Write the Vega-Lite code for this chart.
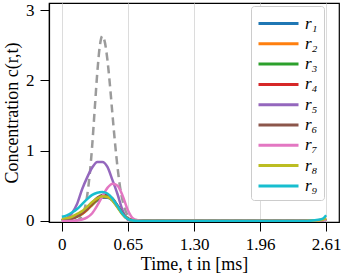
{
  "$schema": "https://vega.github.io/schema/vega-lite/v6.json",
  "width": 290,
  "height": 219,
  "autosize": {"type": "none"},
  "padding": {"left": 49, "top": 3, "right": 2, "bottom": 55},
  "config": {
    "font": "Liberation Serif",
    "view": {"stroke": "black", "strokeWidth": 1.2},
    "axis": {
      "labelFont": "Liberation Serif",
      "titleFont": "Liberation Serif",
      "labelFontSize": 17,
      "titleFontSize": 18,
      "titleFontWeight": "normal",
      "labelColor": "black",
      "titleColor": "black",
      "domainColor": "black",
      "domainWidth": 1.2,
      "tickColor": "black",
      "tickWidth": 1,
      "tickSize": 9,
      "labelPadding": 5
    }
  },
  "datasets": {
    "ref": [
      {"t": 0, "c": 0}, {"t": 0.1, "c": 0}, {"t": 0.15, "c": 0.01}, {"t": 0.175, "c": 0.03},
      {"t": 0.2, "c": 0.075}, {"t": 0.225, "c": 0.17}, {"t": 0.25, "c": 0.36}, {"t": 0.275, "c": 0.66},
      {"t": 0.3, "c": 1.08}, {"t": 0.325, "c": 1.6}, {"t": 0.35, "c": 2.11}, {"t": 0.375, "c": 2.49},
      {"t": 0.4, "c": 2.63}, {"t": 0.425, "c": 2.54}, {"t": 0.45, "c": 2.29}, {"t": 0.475, "c": 1.93},
      {"t": 0.5, "c": 1.51}, {"t": 0.525, "c": 1.11}, {"t": 0.55, "c": 0.76}, {"t": 0.575, "c": 0.48},
      {"t": 0.6, "c": 0.29}, {"t": 0.625, "c": 0.16}, {"t": 0.65, "c": 0.08}, {"t": 0.675, "c": 0.04},
      {"t": 0.7, "c": 0.02}, {"t": 0.75, "c": 0}, {"t": 1.0, "c": 0}, {"t": 2.61, "c": 0}
    ],
    "conc": [
      {"s":"r1","t":0,"c":0.01},{"s":"r1","t":0.05,"c":0.02},{"s":"r1","t":0.1,"c":0.03},{"s":"r1","t":0.15,"c":0.06},{"s":"r1","t":0.2,"c":0.1},{"s":"r1","t":0.25,"c":0.16},{"s":"r1","t":0.3,"c":0.23},{"s":"r1","t":0.35,"c":0.29},{"s":"r1","t":0.4,"c":0.33},{"s":"r1","t":0.45,"c":0.33},{"s":"r1","t":0.5,"c":0.29},{"s":"r1","t":0.55,"c":0.2},{"s":"r1","t":0.6,"c":0.1},{"s":"r1","t":0.65,"c":0.03},{"s":"r1","t":0.7,"c":0.01},{"s":"r1","t":0.75,"c":0},{"s":"r1","t":0.8,"c":0},{"s":"r1","t":0.9,"c":0},{"s":"r1","t":1.0,"c":0},{"s":"r1","t":1.5,"c":0},{"s":"r1","t":2.0,"c":0},{"s":"r1","t":2.3,"c":0},{"s":"r1","t":2.4,"c":0},{"s":"r1","t":2.45,"c":0},{"s":"r1","t":2.5,"c":0.003},{"s":"r1","t":2.55,"c":0.008},{"s":"r1","t":2.58,"c":0.013},{"s":"r1","t":2.61,"c":0.02},
      {"s":"r2","t":0,"c":0.01},{"s":"r2","t":0.05,"c":0.02},{"s":"r2","t":0.1,"c":0.035},{"s":"r2","t":0.15,"c":0.06},{"s":"r2","t":0.2,"c":0.1},{"s":"r2","t":0.25,"c":0.16},{"s":"r2","t":0.3,"c":0.23},{"s":"r2","t":0.35,"c":0.3},{"s":"r2","t":0.4,"c":0.34},{"s":"r2","t":0.45,"c":0.34},{"s":"r2","t":0.5,"c":0.3},{"s":"r2","t":0.55,"c":0.2},{"s":"r2","t":0.6,"c":0.1},{"s":"r2","t":0.65,"c":0.03},{"s":"r2","t":0.7,"c":0.01},{"s":"r2","t":0.75,"c":0},{"s":"r2","t":0.8,"c":0},{"s":"r2","t":0.9,"c":0},{"s":"r2","t":1.0,"c":0},{"s":"r2","t":1.5,"c":0},{"s":"r2","t":2.0,"c":0},{"s":"r2","t":2.3,"c":0},{"s":"r2","t":2.4,"c":0},{"s":"r2","t":2.45,"c":0},{"s":"r2","t":2.5,"c":0.003},{"s":"r2","t":2.55,"c":0.008},{"s":"r2","t":2.58,"c":0.013},{"s":"r2","t":2.61,"c":0.02},
      {"s":"r3","t":0,"c":0.01},{"s":"r3","t":0.05,"c":0.02},{"s":"r3","t":0.1,"c":0.04},{"s":"r3","t":0.15,"c":0.065},{"s":"r3","t":0.2,"c":0.11},{"s":"r3","t":0.25,"c":0.17},{"s":"r3","t":0.3,"c":0.24},{"s":"r3","t":0.35,"c":0.31},{"s":"r3","t":0.4,"c":0.35},{"s":"r3","t":0.45,"c":0.35},{"s":"r3","t":0.5,"c":0.31},{"s":"r3","t":0.55,"c":0.21},{"s":"r3","t":0.6,"c":0.1},{"s":"r3","t":0.65,"c":0.03},{"s":"r3","t":0.7,"c":0.01},{"s":"r3","t":0.75,"c":0},{"s":"r3","t":0.8,"c":0},{"s":"r3","t":0.9,"c":0},{"s":"r3","t":1.0,"c":0},{"s":"r3","t":1.5,"c":0},{"s":"r3","t":2.0,"c":0},{"s":"r3","t":2.3,"c":0},{"s":"r3","t":2.4,"c":0},{"s":"r3","t":2.45,"c":0},{"s":"r3","t":2.5,"c":0.004},{"s":"r3","t":2.55,"c":0.01},{"s":"r3","t":2.58,"c":0.016},{"s":"r3","t":2.61,"c":0.025},
      {"s":"r4","t":0,"c":0.01},{"s":"r4","t":0.05,"c":0.02},{"s":"r4","t":0.1,"c":0.04},{"s":"r4","t":0.15,"c":0.07},{"s":"r4","t":0.2,"c":0.11},{"s":"r4","t":0.25,"c":0.17},{"s":"r4","t":0.3,"c":0.25},{"s":"r4","t":0.35,"c":0.32},{"s":"r4","t":0.4,"c":0.36},{"s":"r4","t":0.45,"c":0.36},{"s":"r4","t":0.5,"c":0.31},{"s":"r4","t":0.55,"c":0.21},{"s":"r4","t":0.6,"c":0.1},{"s":"r4","t":0.65,"c":0.03},{"s":"r4","t":0.7,"c":0.01},{"s":"r4","t":0.75,"c":0},{"s":"r4","t":0.8,"c":0},{"s":"r4","t":0.9,"c":0},{"s":"r4","t":1.0,"c":0},{"s":"r4","t":1.5,"c":0},{"s":"r4","t":2.0,"c":0},{"s":"r4","t":2.3,"c":0},{"s":"r4","t":2.4,"c":0},{"s":"r4","t":2.45,"c":0},{"s":"r4","t":2.5,"c":0.004},{"s":"r4","t":2.55,"c":0.01},{"s":"r4","t":2.58,"c":0.016},{"s":"r4","t":2.61,"c":0.025},
      {"s":"r5","t":0,"c":0.02},{"s":"r5","t":0.05,"c":0.04},{"s":"r5","t":0.1,"c":0.11},{"s":"r5","t":0.15,"c":0.24},{"s":"r5","t":0.2,"c":0.45},{"s":"r5","t":0.25,"c":0.62},{"s":"r5","t":0.3,"c":0.76},{"s":"r5","t":0.35,"c":0.84},{"s":"r5","t":0.4,"c":0.84},{"s":"r5","t":0.45,"c":0.77},{"s":"r5","t":0.5,"c":0.58},{"s":"r5","t":0.55,"c":0.38},{"s":"r5","t":0.6,"c":0.15},{"s":"r5","t":0.65,"c":0.02},{"s":"r5","t":0.7,"c":0},{"s":"r5","t":0.75,"c":0},{"s":"r5","t":0.8,"c":0},{"s":"r5","t":0.9,"c":0},{"s":"r5","t":1.0,"c":0},{"s":"r5","t":1.5,"c":0},{"s":"r5","t":2.0,"c":0},{"s":"r5","t":2.3,"c":0},{"s":"r5","t":2.4,"c":0},{"s":"r5","t":2.45,"c":0},{"s":"r5","t":2.5,"c":0.002},{"s":"r5","t":2.55,"c":0.005},{"s":"r5","t":2.58,"c":0.01},{"s":"r5","t":2.61,"c":0.02},
      {"s":"r6","t":0,"c":0.01},{"s":"r6","t":0.05,"c":0.02},{"s":"r6","t":0.1,"c":0.04},{"s":"r6","t":0.15,"c":0.07},{"s":"r6","t":0.2,"c":0.12},{"s":"r6","t":0.25,"c":0.18},{"s":"r6","t":0.3,"c":0.26},{"s":"r6","t":0.35,"c":0.33},{"s":"r6","t":0.4,"c":0.37},{"s":"r6","t":0.45,"c":0.37},{"s":"r6","t":0.5,"c":0.32},{"s":"r6","t":0.55,"c":0.22},{"s":"r6","t":0.6,"c":0.11},{"s":"r6","t":0.65,"c":0.04},{"s":"r6","t":0.7,"c":0.01},{"s":"r6","t":0.75,"c":0},{"s":"r6","t":0.8,"c":0},{"s":"r6","t":0.9,"c":0},{"s":"r6","t":1.0,"c":0},{"s":"r6","t":1.5,"c":0},{"s":"r6","t":2.0,"c":0},{"s":"r6","t":2.3,"c":0},{"s":"r6","t":2.4,"c":0},{"s":"r6","t":2.45,"c":0},{"s":"r6","t":2.5,"c":0.004},{"s":"r6","t":2.55,"c":0.012},{"s":"r6","t":2.58,"c":0.02},{"s":"r6","t":2.61,"c":0.03},
      {"s":"r7","t":0,"c":0},{"s":"r7","t":0.05,"c":0},{"s":"r7","t":0.1,"c":0},{"s":"r7","t":0.15,"c":0.006},{"s":"r7","t":0.2,"c":0.02},{"s":"r7","t":0.25,"c":0.05},{"s":"r7","t":0.3,"c":0.11},{"s":"r7","t":0.35,"c":0.22},{"s":"r7","t":0.4,"c":0.35},{"s":"r7","t":0.45,"c":0.47},{"s":"r7","t":0.5,"c":0.53},{"s":"r7","t":0.55,"c":0.5},{"s":"r7","t":0.6,"c":0.36},{"s":"r7","t":0.65,"c":0.16},{"s":"r7","t":0.7,"c":0.04},{"s":"r7","t":0.75,"c":0.01},{"s":"r7","t":0.8,"c":0},{"s":"r7","t":0.9,"c":0},{"s":"r7","t":1.0,"c":0},{"s":"r7","t":1.5,"c":0},{"s":"r7","t":2.0,"c":0},{"s":"r7","t":2.3,"c":0},{"s":"r7","t":2.4,"c":0},{"s":"r7","t":2.45,"c":0},{"s":"r7","t":2.5,"c":0.002},{"s":"r7","t":2.55,"c":0.006},{"s":"r7","t":2.58,"c":0.012},{"s":"r7","t":2.61,"c":0.02},
      {"s":"r8","t":0,"c":0.03},{"s":"r8","t":0.05,"c":0.04},{"s":"r8","t":0.1,"c":0.06},{"s":"r8","t":0.15,"c":0.1},{"s":"r8","t":0.2,"c":0.14},{"s":"r8","t":0.25,"c":0.2},{"s":"r8","t":0.3,"c":0.27},{"s":"r8","t":0.35,"c":0.32},{"s":"r8","t":0.4,"c":0.35},{"s":"r8","t":0.45,"c":0.34},{"s":"r8","t":0.5,"c":0.29},{"s":"r8","t":0.55,"c":0.19},{"s":"r8","t":0.6,"c":0.09},{"s":"r8","t":0.65,"c":0.03},{"s":"r8","t":0.7,"c":0.005},{"s":"r8","t":0.75,"c":0},{"s":"r8","t":0.8,"c":0},{"s":"r8","t":0.9,"c":0},{"s":"r8","t":1.0,"c":0},{"s":"r8","t":1.5,"c":0},{"s":"r8","t":2.0,"c":0},{"s":"r8","t":2.3,"c":0},{"s":"r8","t":2.4,"c":0},{"s":"r8","t":2.45,"c":0.002},{"s":"r8","t":2.5,"c":0.005},{"s":"r8","t":2.55,"c":0.01},{"s":"r8","t":2.58,"c":0.02},{"s":"r8","t":2.61,"c":0.04},
      {"s":"r9","t":0,"c":0.06},{"s":"r9","t":0.05,"c":0.08},{"s":"r9","t":0.1,"c":0.12},{"s":"r9","t":0.15,"c":0.17},{"s":"r9","t":0.2,"c":0.24},{"s":"r9","t":0.25,"c":0.31},{"s":"r9","t":0.3,"c":0.37},{"s":"r9","t":0.35,"c":0.4},{"s":"r9","t":0.4,"c":0.41},{"s":"r9","t":0.45,"c":0.39},{"s":"r9","t":0.5,"c":0.32},{"s":"r9","t":0.55,"c":0.21},{"s":"r9","t":0.6,"c":0.1},{"s":"r9","t":0.65,"c":0.03},{"s":"r9","t":0.7,"c":0.005},{"s":"r9","t":0.75,"c":0},{"s":"r9","t":0.8,"c":0},{"s":"r9","t":0.9,"c":0},{"s":"r9","t":1.0,"c":0},{"s":"r9","t":1.5,"c":0},{"s":"r9","t":2.0,"c":0},{"s":"r9","t":2.3,"c":0},{"s":"r9","t":2.4,"c":0},{"s":"r9","t":2.45,"c":0.003},{"s":"r9","t":2.5,"c":0.01},{"s":"r9","t":2.55,"c":0.02},{"s":"r9","t":2.58,"c":0.035},{"s":"r9","t":2.61,"c":0.08}
    ]
  },
  "layer": [
    {
      "data": {"name": "ref"},
      "mark": {"type": "line", "color": "#9b9b9b", "strokeWidth": 2.5, "strokeDash": [8, 5], "interpolate": "monotone", "clip": true},
      "encoding": {
        "x": {
          "field": "t", "type": "quantitative",
          "scale": {"domain": [-0.127, 2.737], "nice": false, "zero": false},
          "axis": {
            "values": [0, 0.6525, 1.305, 1.9575, 2.61],
            "labelExpr": "datum.value < 0.1 ? '0' : datum.value < 1 ? '0.65' : datum.value < 1.5 ? '1.30' : datum.value < 2.2 ? '1.96' : '2.61'",
            "grid": true, "gridColor": "#dcdcdc", "gridWidth": 1,
            "title": "Time, t in [ms]", "titlePadding": 3, "labelPadding": 5
          }
        },
        "y": {
          "field": "c", "type": "quantitative",
          "scale": {"domain": [-0.015, 3.1], "nice": false, "zero": false},
          "axis": {
            "values": [0, 1, 2, 3], "format": "d", "grid": false,
            "title": "Concentration c(r,t)", "titlePadding": 4, "labelPadding": 6
          }
        }
      }
    },
    {
      "data": {"name": "conc"},
      "mark": {"type": "line", "strokeWidth": 2.5, "interpolate": "monotone", "clip": true},
      "encoding": {
        "x": {"field": "t", "type": "quantitative"},
        "y": {"field": "c", "type": "quantitative"},
        "color": {
          "field": "s", "type": "nominal",
          "scale": {
            "domain": ["r1","r2","r3","r4","r5","r6","r7","r8","r9"],
            "range": ["#1f77b4","#ff7f0e","#2ca02c","#d62728","#9467bd","#8c564b","#e377c2","#bcbd22","#17becf"]
          },
          "legend": {
            "title": null,
            "orient": "none",
            "legendX": 202,
            "legendY": 3,
            "symbolType": "M-1,0H3",
            "symbolSize": 400,
            "symbolStrokeWidth": 3,
            "labelFont": "Liberation Serif",
            "labelFontSize": 17,
            "labelFontStyle": "italic",
            "labelColor": "black",
            "labelOffset": 25,
            "rowPadding": 0.3,
            "padding": 6,
            "fillColor": "white",
            "strokeColor": "#cccccc",
            "cornerRadius": 3,
            "labelExpr": "'r' + ['','₁','₂','₃','₄','₅','₆','₇','₈','₉'][toNumber(substring(datum.label, 1))]"
          }
        }
      }
    }
  ]
}
